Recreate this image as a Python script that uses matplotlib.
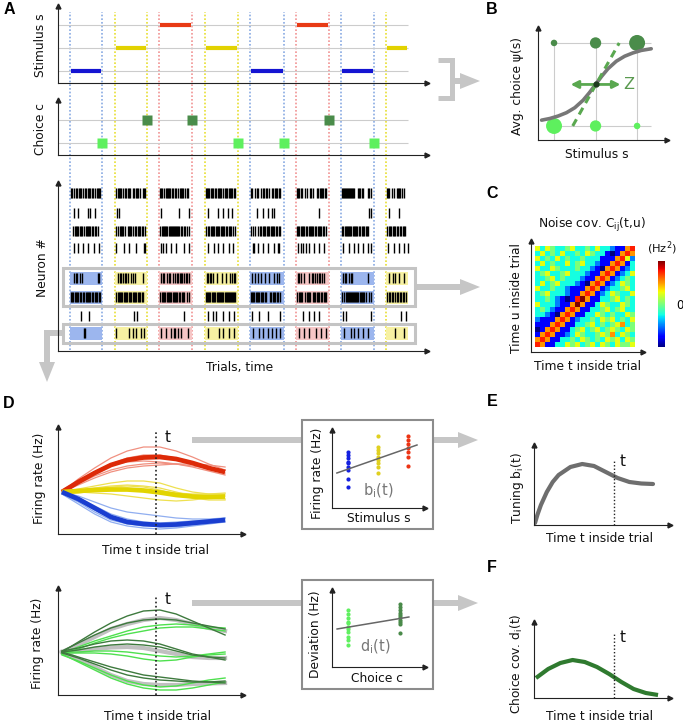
import numpy as np
import matplotlib
matplotlib.use("Agg")
import matplotlib.pyplot as plt
from matplotlib.patches import Rectangle, Polygon

plt.rcParams['font.family'] = ['DejaVu Sans']
plt.rcParams['mathtext.fontset'] = 'dejavusans'

W, H = 683, 723

# ======================= DATA =======================
# ---- Panel A: trials ----
trial_start = [0, 45, 89, 135, 180, 226, 271, 316]
trial_end = [32, 77, 122, 168, 214, 259, 304, 338]
record_end = 338
stimulus = [1, 2, 3, 2, 1, 3, 1, 2]
choice = [0, 1, 1, 0, 0, 1, 0, None]
stim_levels = [1, 2, 3]
choice_levels = [0, 1]

# raster rows (neuron positions) and spike patterns ('|' = spike, one char per time bin)
neuron_y = [158, 138, 120, 103, 73, 54, 35, 18]
shaded_neurons = [4, 5, 7]
spikes = [
    ["||.|.||.|||.|.||.|||.||.|.||||", "|.||||.|.||.|||..||.|||.|..|||", "|||.|.|||||.||.||.|.||||.|.||.", "||||.|||.||.||||.|.|||.||||.||",
     "||..|.||..|.||.||.|..||.|||.||", "|||.||..|.|..||.|...||.||||.||", "|||||||||||||...|||.||....||.|", "|||..|.|..||||.|.|"],
    ["...|...|.........|.|....|.....", ".|.|..........................", ".|.................|.........|", "..|.........|....|....|...|...",
     "......|.....|....|...|.|......", "......................|.......", "...........................|.|", "..|.........|........."],
    ["..|.||||.|||.|.|||||.||.||.|..", "|.|.||||.|..||||.|.||.|||.||.|", "|.||||||.|||||||||||.||.||.|.|", "|.||.||||.||||.||||.||.|||.|.|",
     "|.|.|..|.||.|||.|||.||||.||.||", "|||.||||.||.|||||.||.||||.||.|", "||.|||||||.|||||.||.|||.|||...", "|.|||.|||.||.||.|||."],
    ["...|...|....|....|.....|....|.", "|.......|....|......|.......||", ".|.|..|....|....|.......|....|", "..|.....|...|....|.....|...|..",
     "..||...|....|....|.....|...||.", ".|..|.|..|..|....|....|....|..", ".|.....|....|...|....|....|..|", ".|.....|....|....|...|"],
    ["...|.||..|.|...............||.", "..|.||.|.||.|..|.|.|.......|..", ".|.||..|.||..|.|.||.|||.|.||.|", ".||.||.|...|....|...|...|.|.||",
     ".|..|..|..|...|...|....|..|.|.", ".||.|..|....|..||.|.|.||.|.|..", ".|.||..|.||...............|...", "..|...|.|...|....|..."],
    ["|||.||||.||.||.|||||.||.|||.||", "|.|||||.||||.|||.||||.|||.||..", "|.||||.|||||.|||||.||.|||..|.|", "|||||.||||.|||||||.|||||||||||",
     "||||.||||.|||.||...||.|||.||.|", "|.||||..|.||||..|||.|||.||.|||", "|.|.|||||||||||||.|||||.|..|.|", "|.||.||.|.||.||.||.|"],
    ["..........|.......|...........", "..................|..|........", "........................|.....", "..|....|..|......|.....|....|.",
     ".|......|........|...........|", "......|.....|....|....|.......", ".|..|........................|", "..............|....|.."],
    [".............||...............", "|............|...|..|....|..|.", ".|....|....|..||..|..|......|.", "..|..........|...|.....|....|.",
     "..|.....|...|....|...|...|...|", "..|....|....|......|....|....|", "..|......|..|...|....|....|...", "........|........|...."],
]

# ---- Panel B: psychometric ----
count_hi = [1, 3, 6]
count_lo = [6, 3, 1]
psy_s = [0.70, 0.90, 1.10, 1.30, 1.50, 1.70, 1.85, 2.00, 2.15, 2.30, 2.50, 2.70, 2.90, 3.10, 3.34]
psy_p = [0.07, 0.09, 0.12, 0.16, 0.22, 0.31, 0.40, 0.50, 0.60, 0.69, 0.78, 0.84, 0.88, 0.91, 0.93]
slope_s = [1.45, 2.57]
slope_p = [0.0, 1.0]
z_s = [1.40, 2.60]
psy_center = (2.0, 0.5)

# ---- Panel C: noise covariance (rows = time u from top, cols = time t) ----
noise_cov = [
    [1, -1, 1, 0, -1, -1, 0, 1, -1, -1, 0, -1, 1, -1, -1, -2, -3, -3, 2, 3],
    [-1, 1, -1, 0, -1, 1, -1, -1, 0, -1, 1, 0, -1, -1, -3, -4, -3, 2, 3, 2],
    [1, -1, 0, -1, 1, -1, 0, -1, -1, 0, -1, -1, -1, -3, -3, -3, 2, 3, 1, -2],
    [-1, 1, -1, 0, -1, -1, 1, -1, 0, 1, -1, -1, -2, -3, -3, 2, 3, 2, -3, -1],
    [1, -1, -1, 1, 0, -1, -1, -1, 0, -1, -1, -2, -3, -4, 2, 3, 2, -3, -2, -1],
    [-1, 0, 1, -1, -1, 0, 1, -1, -1, -1, -2, -3, -3, 2, 3, 2, -3, -2, -1, 1],
    [-1, -1, 0, 1, -1, 0, -1, -1, -1, -2, -3, -3, 2, 3, 2, -3, -2, -1, 0, -1],
    [-1, 1, -1, 0, 1, -1, -1, -1, -2, -3, -4, 2, 3, 2, -3, -2, -1, 1, 0, -1],
    [1, -1, -1, 0, -1, -1, -2, -3, -3, -3, 2, 3, 2, -3, -2, -1, -1, 0, 1, -1],
    [-1, 0, 1, -1, -1, -1, -2, -3, -3, 2, 3, 2, -3, -2, -1, 1, 0, -1, -1, 1],
    [-1, -1, 0, -1, -2, -3, -4, -3, 3, 4, 2, -3, -3, -1, -1, 0, 1, -1, 0, -1],
    [1, -1, -1, -1, -2, -3, -3, 2, 4, 2, -3, -3, -1, 1, 0, -1, -1, 1, 0, -1],
    [-1, 0, -1, -2, -3, -3, 2, 3, 2, -3, -3, -1, -1, 0, 1, -1, 0, 1, -1, -1],
    [-1, -1, -2, -3, -4, 2, 3, 2, -3, -3, -1, -1, 1, 0, -1, 0, -1, -1, 1, 0],
    [-2, -3, -3, -3, 2, 3, 2, -3, -2, -1, -1, 0, -1, 1, 0, 1, -1, 0, -1, 1],
    [-3, -3, -3, 2, 3, 2, -3, -3, -1, -1, 0, 1, -1, 0, -1, 0, 1, 2, -1, 0],
    [-4, -3, 2, 3, 2, -3, -3, -1, 0, 1, -1, 0, 1, -1, 0, 1, 0, -1, 1, 0],
    [-3, 2, 3, 2, -3, -3, -2, -1, 1, 0, -1, -1, 0, 1, 0, 2, -1, 1, 0, -1],
    [2, 3, 2, -3, -3, -1, -1, 0, -1, 1, 0, -1, 0, -1, 1, 0, 1, -1, 1, 0],
    [3, 2, -3, -3, -1, -1, 1, 0, 1, -1, 0, 1, -1, 1, 0, -1, 1, 0, 0, 1],
]

# ---- Panel D: firing rates vs time ----
t_grid = [0.0, 0.1, 0.2, 0.3, 0.4, 0.5, 0.6, 0.7, 0.8, 0.9, 1.0]
t_mark_D = 0.577
rate_mean_red = [42, 52, 61, 69, 74, 76.5, 77, 75, 71, 66, 62]
rate_mean_yellow = [42, 43, 44, 44.5, 44.5, 43.5, 41.5, 39, 37.5, 37, 37.5]
rate_mean_blue = [42, 35, 26, 17, 12, 10, 9, 9.5, 11, 12.5, 14]
rate_trials_red = [
    [42, 55, 66, 76, 83, 87, 87, 83, 77, 70, 64],
    [42, 52, 62, 70, 76, 79, 79, 76, 72, 67, 61],
    [42, 50, 58, 64, 68, 70, 71, 70, 68, 66, 64],
    [42, 49, 56, 62, 66, 68, 69, 70, 70, 69, 67],
    [44, 53, 62, 69, 72, 73, 72, 70, 67, 63, 59],
]
rate_trials_yellow = [
    [42, 45, 48, 51, 53, 53, 51, 46, 42, 40, 40],
    [41, 43, 45, 47, 48, 47, 44, 40, 36, 34, 34],
    [43, 42, 41, 40, 38, 36, 34, 33, 34, 36, 38],
    [40, 41, 43, 44, 44, 44, 43, 41, 40, 40, 41],
    [42, 44, 46, 48, 49, 48, 46, 42, 38, 36, 35],
]
rate_trials_blue = [
    [42, 38, 32, 26, 22, 20, 18, 16, 15, 15, 16],
    [40, 32, 22, 14, 10, 8, 8, 9, 11, 13, 15],
    [40, 30, 20, 12, 8, 6, 5, 6, 8, 10, 12],
    [42, 36, 28, 20, 15, 12, 11, 12, 13, 14, 16],
    [41, 33, 24, 16, 11, 9, 7, 7, 9, 11, 13],
]
# bottom: means (gray) and trials split by choice
cond_mean_gray = [
    [43, 50, 58, 66, 71, 75, 77, 75, 71, 67, 64],
    [43, 44, 46, 47.5, 48, 47, 44, 41, 38, 37, 37],
    [43, 36, 28, 20, 14, 11, 10, 10, 11, 11.5, 12],
]
trials_choice_hi = [
    [43, 53, 63, 72, 79, 84, 85, 81, 74, 67, 60],
    [44, 52, 60, 67, 72, 75, 76, 75, 72, 69, 66],
    [44, 47, 51, 54, 55, 54, 51, 46, 41, 38, 35],
    [43, 45, 48, 50, 51, 50, 48, 44, 40, 38, 37],
    [43, 38, 33, 28, 24, 20, 18, 16, 14, 13, 12],
    [42, 37, 31, 25, 20, 17, 15, 14, 13, 13, 14],
]
trials_choice_lo = [
    [42, 48, 54, 59, 64, 68, 70, 71, 70, 68, 67],
    [41, 46, 52, 57, 61, 64, 67, 68, 68, 66, 64],
    [42, 42, 42, 41, 39, 36, 34, 35, 38, 40, 41],
    [43, 43, 44, 44, 43, 41, 39, 38, 39, 41, 43],
    [41, 33, 25, 17, 11, 7, 5, 5, 7, 10, 13],
    [40, 34, 27, 20, 14, 10, 8, 9, 12, 15, 17],
]
# insets: rates at time t vs stimulus, deviations vs choice
inset_rate_blue = [56, 53, 50, 46, 45, 41, 38, 29, 21]
inset_rate_yellow = [72, 61, 58, 55, 51, 48, 45, 41, 35]
inset_rate_red = [72, 68, 64, 60, 56, 51, 42]
inset_fit_s = [0.63, 3.30]
inset_fit_r = [35, 63]
inset_dev_lo = [57, 53, 49, 45, 44, 40, 38, 35, 30, 27, 22]
inset_dev_hi = [63, 60, 57, 54, 52, 50, 47, 45, 43, 34]
inset_fit_c = [-0.21, 1.17]
inset_fit_d = [38, 50]

# ---- Panels E, F ----
tune_t = [0, 0.02, 0.05, 0.1, 0.15, 0.2, 0.3, 0.4, 0.5, 0.6, 0.7, 0.8, 0.9, 1.0]
tune_b = [2, 10, 20, 33, 43, 50, 58, 61, 59, 53, 47, 43, 41.5, 41]
t_mark_E = 0.67
cc_t = [0.0, 0.1, 0.2, 0.3, 0.4, 0.5, 0.6, 0.7, 0.8, 0.9, 1.0]
cc_d = [20, 29, 35, 38, 36, 31, 24, 16, 9, 5, 3]
t_mark_F = 0.64

# ======================= STYLE =======================
AXC = '#222222'
LAB = 8.8
STIM_COL = {1: '#1414d2', 2: '#e2d200', 3: '#e83a14'}
DOT_COL = {1: '#7fa3e0', 2: '#e6dc20', 3: '#f08a8a'}
SHADE_COL = {1: '#9cb6ee', 2: '#f7f1a2', 3: '#f6c6c6'}
DKG = '#4a8c4a'
LTG = '#5ef05e'
ARROW = '#c6c6c6'

fig = plt.figure(figsize=(W / 100, H / 100), dpi=100)


def px_axes(x0, y0, x1, y1):
    ax = fig.add_axes([x0 / W, 1 - y1 / H, (x1 - x0) / W, (y1 - y0) / H])
    ax.set_facecolor('none')
    return ax


def arrow_axes(ax):
    for s in ['top', 'right']:
        ax.spines[s].set_visible(False)
    for s in ['left', 'bottom']:
        ax.spines[s].set_linewidth(0.8)
        ax.spines[s].set_color(AXC)
    ax.set_xticks([])
    ax.set_yticks([])
    ax.plot(1, 0, '>', color=AXC, ms=3.5, transform=ax.transAxes, clip_on=False)
    ax.plot(0, 1, '^', color=AXC, ms=3.5, transform=ax.transAxes, clip_on=False)


# ---------- overlay (arrows, boxes, labels) ----------
ov = px_axes(0, 0, W, H)
ov.set_xlim(0, W)
ov.set_ylim(H, 0)
ov.axis('off')


def gray_arrow(xs, ys, head_len=20, head_w=16, lw_px=6):
    x1, y1 = xs[-1], ys[-1]
    x0, y0 = xs[-2], ys[-2]
    d = np.array([x1 - x0, y1 - y0], float)
    d /= np.hypot(*d)
    n = np.array([-d[1], d[0]])
    tip = np.array([x1, y1], float)
    base = tip - d * head_len
    lx = list(xs[:-1]) + [base[0] + d[0]]
    ly = list(ys[:-1]) + [base[1] + d[1]]
    ov.plot(lx, ly, color=ARROW, lw=lw_px * 0.72, solid_capstyle='butt',
            solid_joinstyle='miter', zorder=1)
    ov.add_patch(Polygon([tip, base + n * head_w / 2, base - n * head_w / 2],
                         closed=True, color=ARROW, lw=0, zorder=1))


ov.plot([438, 452, 452, 438], [60, 60, 98, 98], color=ARROW, lw=5 * 0.72,
        solid_joinstyle='miter', solid_capstyle='butt', zorder=1)
gray_arrow([452, 480], [81, 81])
gray_arrow([415, 480], [287, 287])
gray_arrow([63, 47, 47], [333, 333, 382])
gray_arrow([192, 478], [440, 440])
gray_arrow([192, 478], [603, 603])

for (x0, y0, x1, y1) in [(302, 420, 433, 529), (302, 580, 433, 689)]:
    ov.add_patch(Rectangle((x0, y0), x1 - x0, y1 - y0, facecolor='white',
                           edgecolor='#8c8c8c', lw=1.5, zorder=2))


def T(x, y, s, rot=0, size=LAB, **kw):
    ov.text(x, y, s, rotation=rot, ha='center', va='center', fontsize=size,
            color=kw.pop('color', '#111111'), zorder=5, **kw)


for letter, (x, y) in {'A': (9, 9), 'B': (492, 9), 'C': (492, 193), 'D': (9, 403),
                       'E': (492, 402), 'F': (492, 567)}.items():
    ov.text(x, y, letter, ha='center', va='center', fontsize=11.5,
            fontweight='bold', family=['Liberation Sans', 'DejaVu Sans'], zorder=5)

T(41, 45, 'Stimulus s', 90)
T(41, 129, 'Choice c', 90)
T(43, 268, 'Neuron #', 90)
T(240, 367, 'Trials, time')
T(518, 86, 'Avg. choice ψ(s)', 90)
T(597, 155, 'Stimulus s')
T(592, 225, r'Noise cov. C$_\mathregular{ij}$(t,u)')
T(516, 298, 'Time u inside trial', 90)
T(588, 366, 'Time t inside trial')
T(662, 248, r'(Hz$^\mathregular{2}$)', size=8.2)
T(40, 478, 'Firing rate (Hz)', 90)
T(155, 550, 'Time t inside trial')
T(317, 473, 'Firing rate (Hz)', 90)
T(379, 519, 'Stimulus s')
T(378, 491, r'b$_\mathregular{i}$(t)', size=10.5, color='#777777')
T(38, 643, 'Firing rate (Hz)', 90)
T(158, 717, 'Time t inside trial')
T(316, 634, 'Deviation (Hz)', 90)
T(377, 678, 'Choice c')
T(375, 647, r'd$_\mathregular{i}$(t)', size=10.5, color='#777777')
T(517, 488, r'Tuning b$_\mathregular{i}$(t)', 90)
T(599, 539, 'Time t inside trial')
T(517, 664, r'Choice cov. d$_\mathregular{i}$(t)', 90)
T(599, 716, 'Time t inside trial')
T(168, 438, 't', size=11)
T(168, 600, 't', size=11)
T(623, 461, 't', size=11)
T(623, 637, 't', size=11)

# ---------- Panel A ----------
XL = (-12, 357)
bg = px_axes(58, 12, 427, 350)
bg.set_xlim(*XL)
bg.set_ylim(0, 1)
bg.axis('off')
for k in range(len(trial_start)):
    c = DOT_COL[stimulus[k]]
    bg.vlines(trial_start[k], 0, 1, color=c, lw=1.1, linestyles=(0, (1.1, 1.3)))
    if trial_end[k] < record_end:
        bg.vlines(trial_end[k], 0, 1, color=c, lw=1.1, linestyles=(0, (1.1, 1.3)))

axs = px_axes(58, 6, 427, 83)
axs.set_xlim(*XL)
axs.set_ylim(0.48, 3.83)
arrow_axes(axs)
axs.hlines(stim_levels, XL[0], record_end, color='#cccccc', lw=0.8)
for k in range(len(trial_start)):
    axs.hlines(stimulus[k], trial_start[k] + 1, trial_end[k] - 1,
               color=STIM_COL[stimulus[k]], lw=3.0, zorder=3)

axc = px_axes(58, 100, 427, 155)
axc.set_xlim(*XL)
axc.set_ylim(-0.52, 1.87)
arrow_axes(axc)
axc.hlines(choice_levels, XL[0], record_end, color='#cccccc', lw=0.8)
for k in range(len(trial_start)):
    if choice[k] is None:
        continue
    axc.plot(trial_end[k], choice[k], 's', ms=6.6, color=DKG if choice[k] == 1 else LTG,
             mec='none', zorder=3)

axr = px_axes(58, 183, 427, 351)
axr.set_xlim(*XL)
axr.set_ylim(0, 168)
arrow_axes(axr)
for n in shaded_neurons:
    for k in range(len(trial_start)):
        axr.add_patch(Rectangle((trial_start[k], neuron_y[n] - 6.5),
                                trial_end[k] - trial_start[k], 13,
                                color=SHADE_COL[stimulus[k]], lw=0, zorder=1))
for n, rows in enumerate(spikes):
    for k, pat in enumerate(rows):
        xs = [trial_start[k] + 1 + i for i, ch in enumerate(pat) if ch == '|']
        axr.vlines(xs, neuron_y[n] - 5, neuron_y[n] + 5, color='black', lw=1.0, zorder=2)
box_x0 = trial_start[0] - 7
box_w = record_end + 7 - box_x0
axr.add_patch(Rectangle((box_x0, neuron_y[5] - 9), box_w, neuron_y[4] - neuron_y[5] + 19,
                        fill=False, edgecolor='#c4c4c4', lw=2.2, zorder=3, clip_on=False))
axr.add_patch(Rectangle((box_x0, neuron_y[7] - 10), box_w, 19,
                        fill=False, edgecolor='#c4c4c4', lw=2.2, zorder=3, clip_on=False))

# ---------- Panel B ----------
axb = px_axes(538, 28, 667, 140)
axb.set_xlim(0.614, 3.72)
axb.set_ylim(-0.169, 1.18)
arrow_axes(axb)
axb.hlines([0, 1], stim_levels[0], psy_s[-1], color='#cccccc', lw=0.8)
axb.vlines(stim_levels, -0.169, 1, color='#cccccc', lw=0.8)
axb.scatter(stim_levels, [1] * 3, s=[22 * c for c in count_hi], color=DKG, lw=0, zorder=3)
axb.scatter(stim_levels, [0] * 3, s=[22 * c for c in count_lo], color=LTG, lw=0, zorder=3)
axb.plot(psy_s, psy_p, color='#777777', lw=2.6, zorder=4, solid_capstyle='round')
axb.plot(slope_s, slope_p, color='#5aa850', lw=2.2, ls=(0, (2.5, 1.8)), zorder=5)
axb.annotate('', xy=(z_s[1], psy_center[1]), xytext=(z_s[0], psy_center[1]),
             arrowprops=dict(arrowstyle='<|-|>', color='#5aa850', lw=2.0,
                             mutation_scale=11, shrinkA=0, shrinkB=0), zorder=6)
axb.plot(*psy_center, 'o', color='#1e3a1e', ms=3.5, zorder=7)
axb.text(z_s[1] + 0.06, psy_center[1], 'Z', color='#5a9a50', fontsize=11.5,
         va='center', ha='left')

# ---------- Panel C ----------
frame = px_axes(531, 241, 643, 352)
arrow_axes(frame)
hm = px_axes(535, 246, 635, 347)
im = hm.imshow(np.array(noise_cov), cmap='jet', vmin=-4, vmax=4,
               interpolation='nearest', aspect='auto')
hm.axis('off')
cax = px_axes(658, 261, 665, 347)
cb = fig.colorbar(im, cax=cax)
cb.set_ticks([0])
cb.outline.set_visible(False)
cax.tick_params(length=0, labelsize=8.5, pad=8)

# ---------- Panel D top ----------
axd = px_axes(58, 427, 243, 534)
axd.set_xlim(-0.0245, 1.110)
axd.set_ylim(0, 107)
arrow_axes(axd)
for tr in rate_trials_red:
    axd.plot(t_grid, tr, color='#f09080', lw=0.9)
for tr in rate_trials_yellow:
    axd.plot(t_grid, tr, color='#eee050', lw=0.9)
for tr in rate_trials_blue:
    axd.plot(t_grid, tr, color='#90aef0', lw=0.9)
axd.plot(t_grid, rate_mean_red, color='#dd2a08', lw=3.4, solid_capstyle='butt')
axd.plot(t_grid, rate_mean_yellow, color='#e2d400', lw=3.4, solid_capstyle='butt')
axd.plot(t_grid, rate_mean_blue, color='#1a3ed0', lw=3.4, solid_capstyle='butt')
axd.vlines(t_mark_D, 0, 104, color='#222222', lw=1.2, linestyles=(0, (1, 1.5)))

# ---------- Panel D bottom ----------
axd2 = px_axes(58, 588, 243, 695)
axd2.set_xlim(-0.0245, 1.110)
axd2.set_ylim(0, 107)
arrow_axes(axd2)
for g in cond_mean_gray:
    axd2.plot(t_grid, g, color='#c0c0c0', lw=3.0)
for tr in trials_choice_lo:
    axd2.plot(t_grid, tr, color='#4ee04e', lw=1.0)
for tr in trials_choice_hi:
    axd2.plot(t_grid, tr, color='#3e7a3e', lw=1.0)
axd2.vlines(t_mark_D, 0, 98, color='#222222', lw=1.2, linestyles=(0, (1, 1.5)))

# ---------- insets ----------
ai = px_axes(332, 430, 425, 508)
ai.set_xlim(0.467, 3.567)
ai.set_ylim(0, 78)
arrow_axes(ai)
ai.scatter([1] * len(inset_rate_blue), inset_rate_blue, s=9, color='#1420e0', lw=0)
ai.scatter([2] * len(inset_rate_yellow), inset_rate_yellow, s=9, color='#e0d020', lw=0)
ai.scatter([3] * len(inset_rate_red), inset_rate_red, s=9, color='#ec3414', lw=0)
ai.plot(inset_fit_s, inset_fit_r, color='#666666', lw=1.1)

ai2 = px_axes(332, 590, 425, 667)
ai2.set_xlim(-0.308, 1.48)
ai2.set_ylim(0, 77)
arrow_axes(ai2)
ai2.scatter([0] * len(inset_dev_lo), inset_dev_lo, s=9, color='#60f060', lw=0)
ai2.scatter([1] * len(inset_dev_hi), inset_dev_hi, s=9, color='#4a8a4a', lw=0)
ai2.plot(inset_fit_c, inset_fit_d, color='#666666', lw=1.1)

# ---------- Panel E ----------
axe = px_axes(534, 445, 670, 525)
axe.set_xlim(-0.0085, 1.144)
axe.set_ylim(0, 80)
arrow_axes(axe)
axe.plot(tune_t, tune_b, color='#6e6e6e', lw=3.0, solid_capstyle='round')
axe.vlines(t_mark_E, 0, 65, color='#222222', lw=1.0, linestyles=(0, (1, 1.5)))

# ---------- Panel F ----------
axf = px_axes(534, 622, 670, 698)
axf.set_xlim(-0.016, 1.098)
axf.set_ylim(0, 76)
arrow_axes(axf)
axf.plot(cc_t, cc_d, color='#2f7a2f', lw=3.0, solid_capstyle='butt')
axf.vlines(t_mark_F, 0, 65, color='#222222', lw=1.0, linestyles=(0, (1, 1.5)))

fig.savefig('out.png', dpi=100)
